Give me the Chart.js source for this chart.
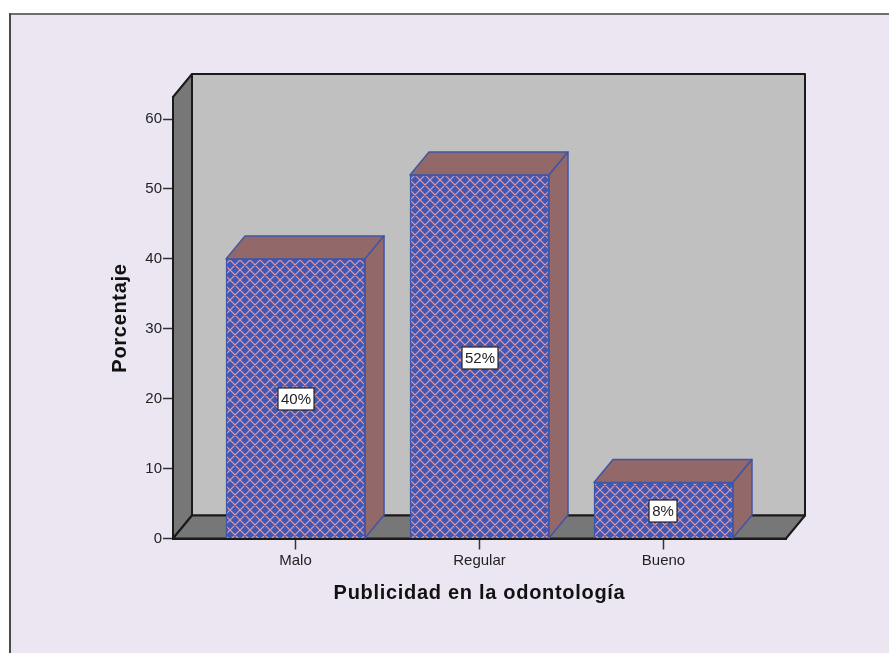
<!DOCTYPE html>
<html>
<head>
<meta charset="utf-8">
<script src="https://cdn.jsdelivr.net/npm/chart.js@4"></script>
<style>
  html, body { margin: 0; padding: 0; background: #fff; }
  #wrap { width: 889px; height: 653px; }
</style>
</head>
<body>
<div id="wrap"><canvas id="publicidadChart" width="889" height="653"></canvas></div>
<script>
// Survey results
const categories = ['Malo', 'Regular', 'Bueno'];
const percentValues = [40, 52, 8];
const percentLabels = ['40%', '52%', '8%'];
const yTicks = [0, 10, 20, 30, 40, 50, 60];
const yAxisTitle = 'Porcentaje';
const xAxisTitle = 'Publicidad en la odontología';

// Box depth of the pseudo 3D look
const DEPTH_X = 19;
const DEPTH_Y = 23;

const PANEL_BG = '#ebe6f1';
const WALL_GREY = '#c0c0c0';
const SIDE_GREY = '#777777';
const BAR_SIDE = '#936868';
const BAR_EDGE = '#3f55a8';
const LINE_DARK = '#1a1a1a';

// Diagonal crosshatch fill for the front of the bars
function hatchPattern() {
    const size = 10;
    const c = document.createElement('canvas');
    c.width = size;
    c.height = size;
    const g = c.getContext('2d');
    g.fillStyle = '#3f58b6';
    g.fillRect(0, 0, size, size);
    g.strokeStyle = '#e49aa6';
    g.lineWidth = 1.2;
    g.beginPath();
    for (let k = -size; k <= size; k += size) {
        g.moveTo(k, 0);
        g.lineTo(k + size, size);
        g.moveTo(k + size, 0);
        g.lineTo(k, size);
    }
    g.stroke();
    return g.createPattern(c, 'repeat');
}

function poly(ctx, pts, fill, stroke, width) {
    ctx.beginPath();
    pts.forEach((p, i) => i ? ctx.lineTo(p[0], p[1]) : ctx.moveTo(p[0], p[1]));
    ctx.closePath();
    ctx.fillStyle = fill;
    ctx.fill();
    ctx.strokeStyle = stroke;
    ctx.lineWidth = width;
    ctx.stroke();
}

// Panel background and its frame
const panelPlugin = {
    id: 'panel',
    beforeDraw(chart) {
        const ctx = chart.ctx;
        ctx.save();
        ctx.fillStyle = PANEL_BG;
        ctx.fillRect(10, 14, chart.width - 10, chart.height - 14);
        ctx.fillStyle = '#6f6f6f';
        ctx.fillRect(9, 13, chart.width - 9, 2);
        ctx.fillStyle = '#4a4a4a';
        ctx.fillRect(9, 13, 2, chart.height - 13);
        ctx.restore();
    }
};

// Back wall, left wall and floor of the box
const boxPlugin = {
    id: 'box',
    beforeDatasetsDraw(chart) {
        const ctx = chart.ctx;
        const a = chart.chartArea;
        ctx.save();
        ctx.lineJoin = 'round';
        poly(ctx, [[a.left + DEPTH_X, a.top - DEPTH_Y], [a.right + DEPTH_X, a.top - DEPTH_Y],
            [a.right + DEPTH_X, a.bottom - DEPTH_Y], [a.left + DEPTH_X, a.bottom - DEPTH_Y]], WALL_GREY, LINE_DARK, 2);
        poly(ctx, [[a.left, a.top], [a.left + DEPTH_X, a.top - DEPTH_Y],
            [a.left + DEPTH_X, a.bottom - DEPTH_Y], [a.left, a.bottom]], SIDE_GREY, LINE_DARK, 2);
        poly(ctx, [[a.left, a.bottom], [a.left + DEPTH_X, a.bottom - DEPTH_Y],
            [a.right + DEPTH_X, a.bottom - DEPTH_Y], [a.right, a.bottom]], SIDE_GREY, LINE_DARK, 2);
        // top and side faces of each bar
        chart.getDatasetMeta(0).data.forEach(bar => {
            const l = bar.x - bar.width / 2;
            const r = bar.x + bar.width / 2;
            poly(ctx, [[l, bar.y], [l + DEPTH_X, bar.y - DEPTH_Y], [r + DEPTH_X, bar.y - DEPTH_Y], [r, bar.y]],
                BAR_SIDE, BAR_EDGE, 1.5);
            poly(ctx, [[r, bar.y], [r + DEPTH_X, bar.y - DEPTH_Y], [r + DEPTH_X, bar.base - DEPTH_Y], [r, bar.base]],
                BAR_SIDE, BAR_EDGE, 1.5);
        });
        ctx.restore();
    }
};

// White value boxes in the middle of each bar
const valueLabelPlugin = {
    id: 'valueLabels',
    afterDatasetsDraw(chart) {
        const ctx = chart.ctx;
        ctx.save();
        ctx.font = '15px "Liberation Sans"';
        ctx.textAlign = 'center';
        ctx.textBaseline = 'middle';
        chart.getDatasetMeta(0).data.forEach((bar, i) => {
            const cx = Math.round(bar.x);
            const cy = Math.round((bar.y + bar.base) / 2) + 1;
            const w = Math.round(ctx.measureText(percentLabels[i]).width) + 6;
            ctx.fillStyle = '#fff';
            ctx.fillRect(cx - w / 2, cy - 11, w, 22);
            ctx.strokeStyle = '#222';
            ctx.lineWidth = 1.2;
            ctx.strokeRect(cx - w / 2, cy - 11, w, 22);
            ctx.fillStyle = '#222';
            ctx.fillText(percentLabels[i], cx, cy + 1);
        });
        ctx.restore();
    }
};

// Axis titles are spaced out, which the scale titles can't do
const axisTitlePlugin = {
    id: 'axisTitles',
    afterDraw(chart) {
        const ctx = chart.ctx;
        const a = chart.chartArea;
        ctx.save();
        ctx.font = 'bold 20px "Liberation Sans"';
        ctx.letterSpacing = '0.7px';
        ctx.fillStyle = '#111';
        ctx.textAlign = 'center';
        ctx.textBaseline = 'middle';
        ctx.fillText(xAxisTitle, (a.left + a.right) / 2, 593);
        ctx.translate(120, 318);
        ctx.rotate(-Math.PI / 2);
        ctx.fillText(yAxisTitle, 0, 0);
        ctx.restore();
    }
};

new Chart(document.getElementById('publicidadChart'), {
    type: 'bar',
    data: {
        datasets: [{
            data: percentValues.map((v, i) => ({ x: i, y: v })),
            backgroundColor: hatchPattern(),
            borderColor: BAR_EDGE,
            borderWidth: 1.5,
            barThickness: 139
        }]
    },
    options: {
        responsive: false,
        animation: false,
        layout: { padding: { top: 97, right: 103, left: 108, bottom: 0 } },
        plugins: { legend: { display: false }, tooltip: { enabled: false } },
        scales: {
            x: {
                type: 'linear',
                offset: false,
                min: -0.666,
                max: 2.666,
                afterBuildTicks(scale) { scale.ticks = categories.map((c, i) => ({ value: i })); },
                afterFit(scale) { scale.height = 114.5; },
                grid: { offset: false, drawOnChartArea: false, tickLength: 11, tickColor: '#333', tickWidth: 1.5 },
                border: { color: LINE_DARK, width: 2 },
                ticks: {
                    autoSkip: false,
                    maxRotation: 0,
                    color: '#222',
                    padding: 2,
                    font: { family: '"Liberation Sans"', size: 15 },
                    callback: v => categories[v]
                }
            },
            y: {
                min: 0,
                max: 63.16,
                afterBuildTicks(scale) { scale.ticks = yTicks.map(v => ({ value: v })); },
                afterFit(scale) { scale.width = 65; },
                grid: { drawOnChartArea: false, tickLength: 10, tickColor: '#333', tickWidth: 1.5 },
                border: { color: LINE_DARK, width: 2 },
                ticks: {
                    color: '#222',
                    padding: 1,
                    font: { family: '"Liberation Sans"', size: 15 }
                }
            }
        }
    },
    plugins: [panelPlugin, boxPlugin, valueLabelPlugin, axisTitlePlugin]
});
</script>
</body>
</html>
